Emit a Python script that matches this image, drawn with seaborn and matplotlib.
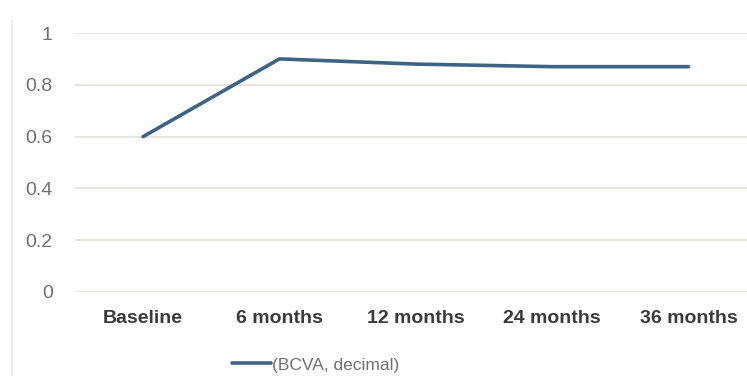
import matplotlib
matplotlib.use("Agg")
import matplotlib.pyplot as plt
import seaborn as sns
import pandas as pd

categories = ["Baseline", "6 months", "12 months", "24 months", "36 months"]
bcva = [0.60, 0.90, 0.88, 0.87, 0.87]
yticks = [0, 0.2, 0.4, 0.6, 0.8, 1]
ytick_labels = ["0", "0.2", "0.4", "0.6", "0.8", "1"]
series_name = "(BCVA, decimal)"

df = pd.DataFrame({"time": categories, "value": bcva, "series": series_name})
df["x"] = range(len(categories))

sns.set_theme(style="white")
plt.rcParams["font.family"] = ["Liberation Sans", "DejaVu Sans"]

fig = plt.figure(figsize=(7.47, 3.76), dpi=100)
ax = fig.add_axes([75 / 747, 1 - 292 / 376, (747 - 75) / 747, (292 - 33) / 376])

sns.lineplot(data=df, x="x", y="value", hue="series", palette=["#3d6386"],
             linewidth=2.6, ax=ax, legend=True)

ax.set_xlim(-0.5, 4.43)
ax.set_ylim(0, 1)
ax.set_yticks(yticks)
ax.set_yticklabels(ytick_labels)
ax.set_xticks(range(len(categories)))
ax.set_xticklabels(categories, fontweight="bold", color="#3a3a3a", fontsize=14)
for lab in ax.get_yticklabels():
    lab.set_color("#707070")
    lab.set_fontsize(14)
ax.tick_params(axis="y", length=0, pad=16)
ax.tick_params(axis="x", length=0, pad=13)
ax.yaxis.grid(True, color="#e8e4de", linewidth=1.4)
ax.set_axisbelow(True)
for s in ax.spines.values():
    s.set_visible(False)
ax.set_xlabel("")
ax.set_ylabel("")

leg = ax.legend(loc="center", bbox_to_anchor=(316 / 747, 1 - 365 / 376),
                bbox_transform=fig.transFigure, frameon=False, fontsize=12.5,
                handlelength=2.2, handletextpad=0.1)
for t in leg.get_texts():
    t.set_color("#707070")

fig.add_artist(plt.Line2D([12 / 747, 12 / 747], [0.0, 1 - 20 / 376],
                          transform=fig.transFigure, color="#ececec", linewidth=1.5))

fig.savefig("out.png", dpi=100)
